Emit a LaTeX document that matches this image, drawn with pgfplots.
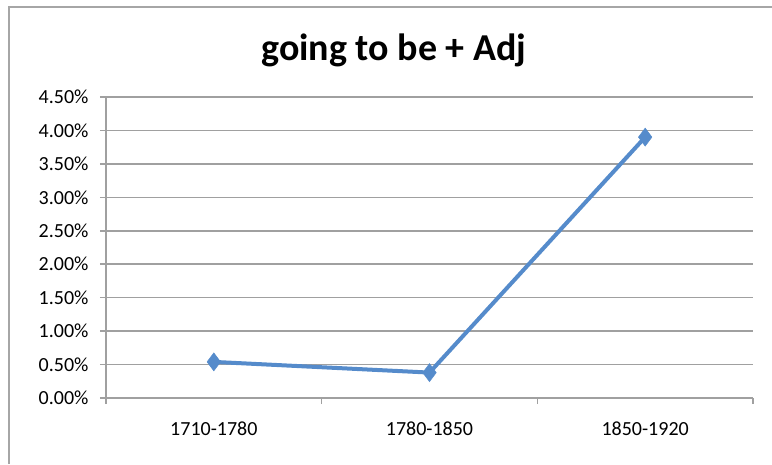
\documentclass[border=0pt]{standalone}
\usepackage{pgfplots}
\pgfplotsset{compat=1.18}
\usepackage{fontspec}
\setmainfont{Carlito}
\definecolor{linecol}{HTML}{558BCB}
\definecolor{gridcol}{HTML}{A0A0A0}
\definecolor{framecol}{HTML}{A6A6A6}
\begin{document}
\begin{tikzpicture}[x=1pt,y=1pt]
\useasboundingbox (0,-464) rectangle (772,0);
\draw[framecol,line width=2pt] (8.5,-464) -- (8.5,-6.5) -- (772,-6.5);
\node[font=\fontsize{38}{38}\selectfont\bfseries] at (394,-50) {going to be + Adj};
\begin{axis}[
  at={(106pt,-398pt)}, anchor=south west,
  scale only axis, width=647pt, height=301pt,
  xmin=-0.5, xmax=2.5, ymin=0, ymax=4.5,
  xtick={-0.5,0.5,1.5,2.5},
  xticklabels={1710-1780,1780-1850,1850-1920},
  x tick label as interval,
  ytick={0,0.5,...,4.5},
  yticklabel={\pgfmathprintnumber[fixed,fixed zerofill,precision=2]{\tick}\%},
  /pgf/number format/assume math mode=true,
  axis x line*=bottom, axis y line*=left,
  axis line style={gridcol,line width=1.5pt,-},
  ymajorgrids, major grid style={gridcol,line width=1.5pt},
  tick style={gridcol,line width=1.5pt},
  tick align=outside, major tick length=6pt,
  ticklabel style={font=\fontsize{20}{20}\selectfont, text=black},
  yticklabel style={xshift=-8pt},
  xticklabel style={yshift=-14pt},
  clip=false,
]
\addplot[linecol, line width=4pt, mark=diamond*, mark size=9pt, mark options={fill=linecol,line width=0.5pt}]
  coordinates {(0,0.54) (1,0.38) (2,3.90)};
\end{axis}
\end{tikzpicture}
\end{document}
